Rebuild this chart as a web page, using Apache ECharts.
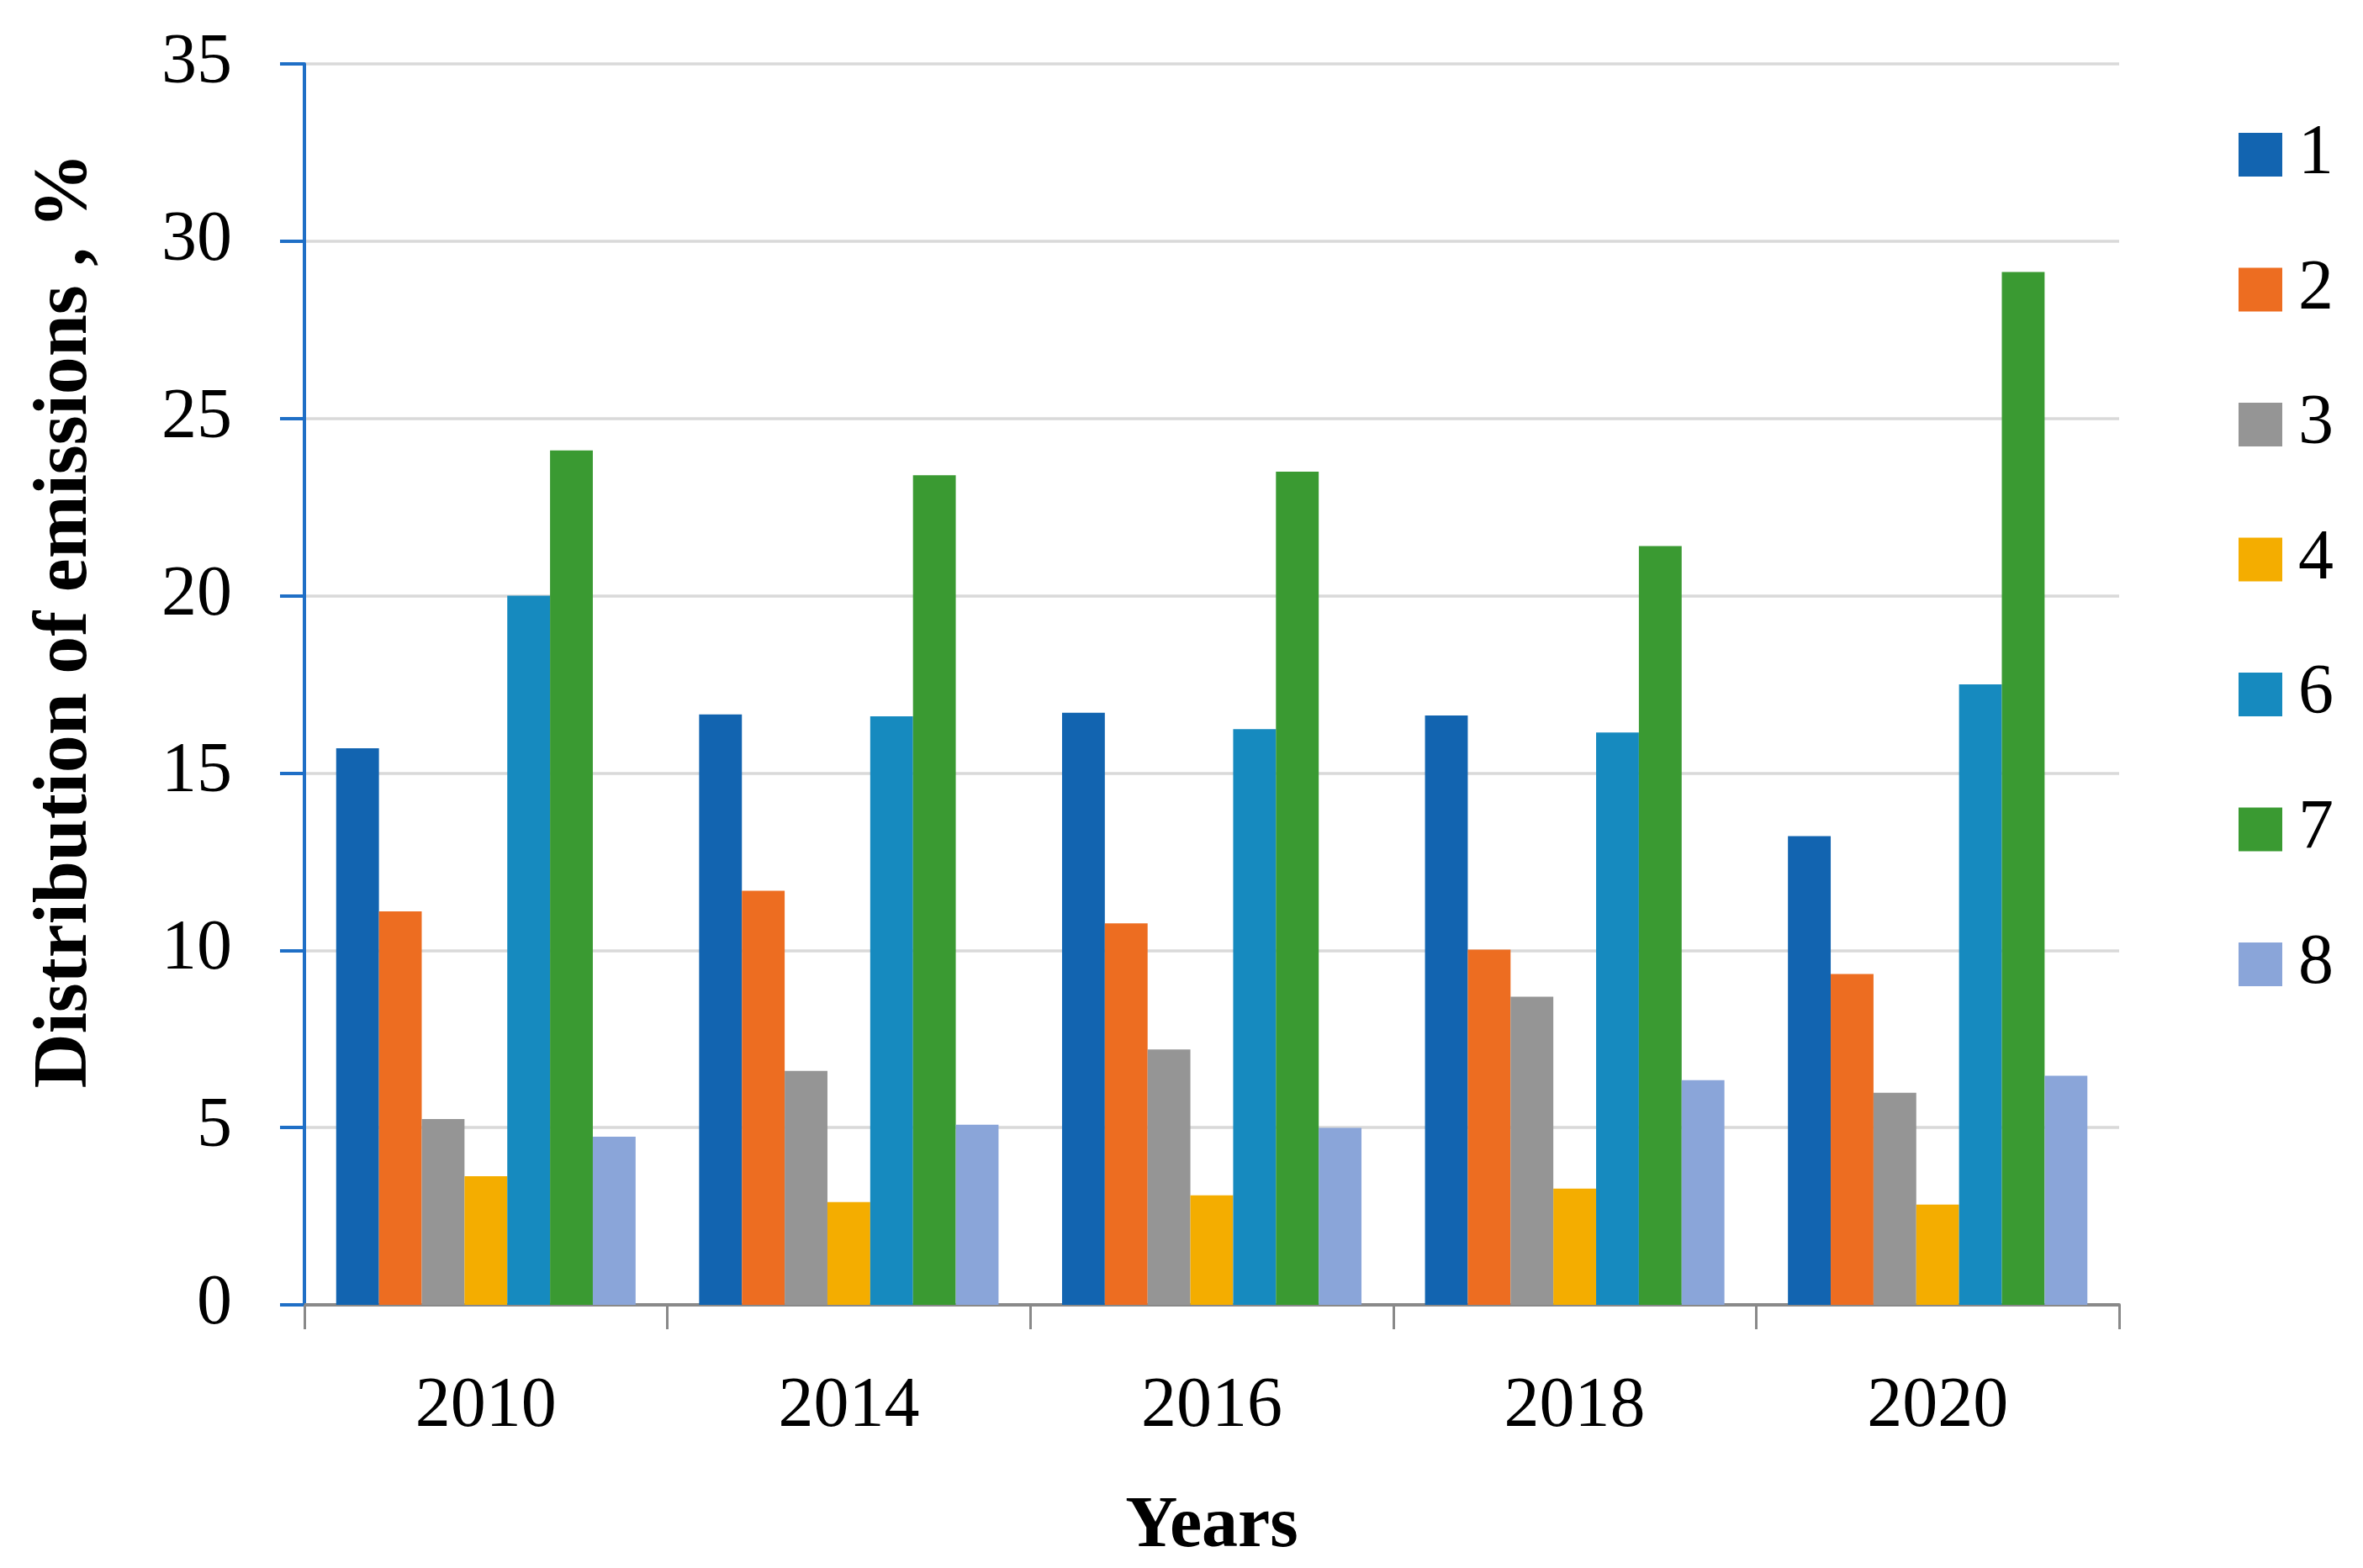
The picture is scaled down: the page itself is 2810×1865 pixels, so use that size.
<!DOCTYPE html>
<html>
<head>
<meta charset="utf-8">
<script src="https://cdn.jsdelivr.net/npm/echarts@6/dist/echarts.min.js"></script>
<style>
html,body{margin:0;padding:0;background:#fff;}
#chart{width:2810px;height:1865px;}
</style>
</head>
<body>
<div id="chart"></div>
<script>
const categories = ['2010', '2014', '2016', '2018', '2020'];
const seriesNames = ['1', '2', '3', '4', '6', '7', '8'];
const s1 = [15.7, 16.65, 16.7, 16.62, 13.22];
const s2 = [11.1, 11.68, 10.76, 10.02, 9.33];
const s3 = [5.24, 6.6, 7.2, 8.69, 5.98];
const s4 = [3.63, 2.9, 3.09, 3.28, 2.83];
const s6 = [20.0, 16.6, 16.24, 16.14, 17.5];
const s7 = [24.1, 23.4, 23.5, 21.4, 29.13];
const s8 = [4.74, 5.08, 4.99, 6.34, 6.46];
const yTicks = [0, 5, 10, 15, 20, 25, 30, 35];

const colors = ['#1264B0', '#ED6D21', '#959595', '#F4AD00', '#168ABF', '#3A9A32', '#8AA5D9'];
const values = [s1, s2, s3, s4, s6, s7, s8];

const FONT = '"Liberation Serif", "Times New Roman", serif';

const chart = echarts.init(document.getElementById('chart'), null, {renderer: 'canvas'});

const option = {
  backgroundColor: '#ffffff',
  animation: false,
  color: colors,
  grid: {left: 362, right: 290, top: 76, bottom: 313, containLabel: false},
  legend: {
    orient: 'vertical',
    left: 2657,
    top: 137,
    itemWidth: 52,
    itemHeight: 52,
    itemGap: 76.5,
    icon: 'rect',
    data: seriesNames,
    textStyle: {fontFamily: FONT, fontSize: 84, color: '#000', padding: [0, 0, 0, 14]}
  },
  xAxis: {
    type: 'category',
    data: categories,
    name: 'Years',
    nameLocation: 'middle',
    nameGap: 222,
    nameTextStyle: {fontFamily: FONT, fontSize: 86, fontWeight: 'bold', color: '#000'},
    axisLine: {show: true, lineStyle: {color: '#898989', width: 4}},
    axisTick: {show: true, length: 29, lineStyle: {color: '#898989', width: 3}, alignWithLabel: false},
    axisLabel: {fontFamily: FONT, fontSize: 84, color: '#000', margin: 80},
    splitLine: {show: false}
  },
  yAxis: {
    type: 'value',
    min: 0,
    max: 35,
    interval: 5,
    axisLine: {show: true, lineStyle: {color: '#1F6FC6', width: 4}},
    axisTick: {show: true, length: 29, lineStyle: {color: '#1F6FC6', width: 4}},
    axisLabel: {
      fontFamily: FONT, fontSize: 84, color: '#000', margin: 86,
      formatter: function (v) { return yTicks.indexOf(v) >= 0 ? String(v) : ''; }
    },
    splitLine: {show: true, lineStyle: {color: '#D9D9D9', width: 3.5}}
  },
  graphic: [{
    type: 'text',
    x: 79,
    y: 738,
    rotation: Math.PI / 2,
    style: {
      text: 'Distribution of emissions , %',
      fontFamily: FONT,
      fontSize: 90,
      fontWeight: 'bold',
      fill: '#000',
      align: 'center',
      verticalAlign: 'middle'
    }
  }],
  series: seriesNames.map(function (name, i) {
    return {
      name: name,
      type: 'bar',
      data: values[i],
      barGap: '0%',
      barCategoryGap: '17.5%',
      itemStyle: {color: colors[i]}
    };
  })
};

chart.setOption(option);
</script>
</body>
</html>
